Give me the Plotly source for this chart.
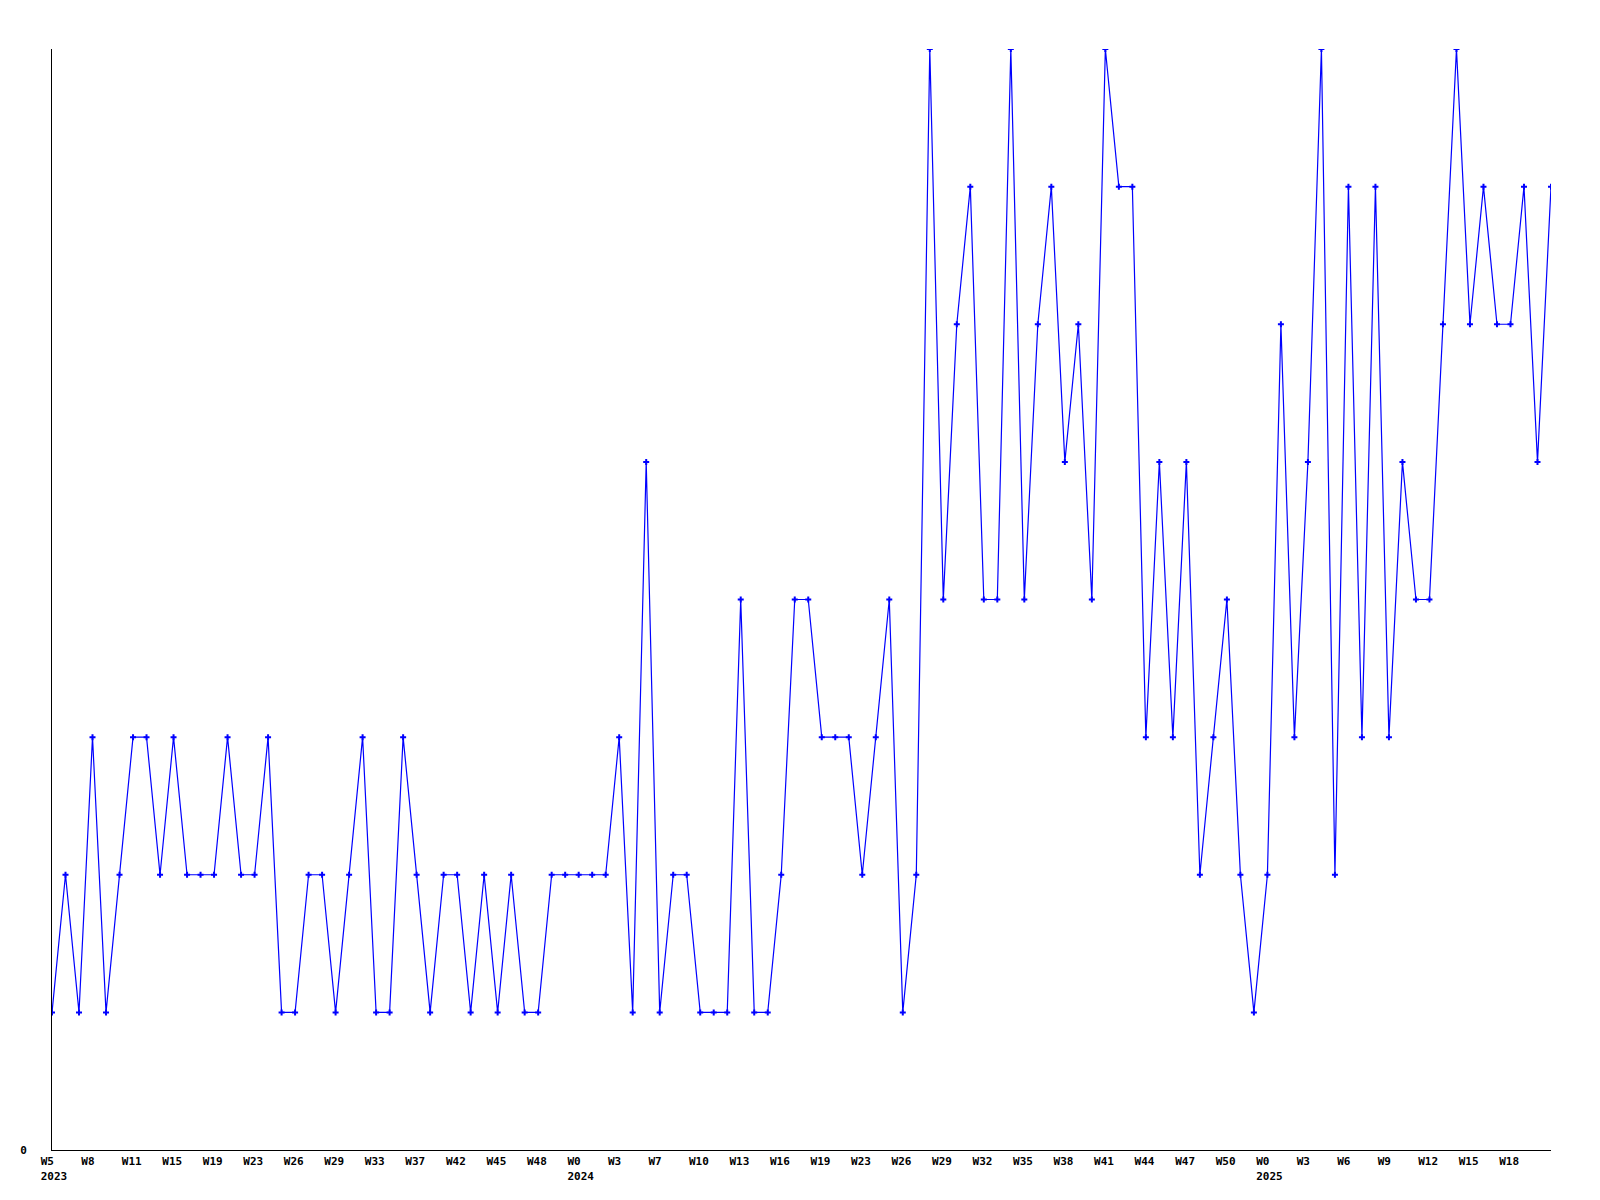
import plotly.graph_objects as go

# Values (one per period)
values = [
    1, 2, 1, 3, 1, 2, 3, 3, 2, 3,
    2, 2, 2, 3, 2, 2, 3, 1, 1, 2,
    2, 1, 2, 3, 1, 1, 3, 2, 1, 2,
    2, 1, 2, 1, 2, 1, 1, 2, 2, 2,
    2, 2, 3, 1, 5, 1, 2, 2, 1, 1,
    1, 4, 1, 1, 2, 4, 4, 3, 3, 3,
    2, 3, 4, 1, 2, 8, 4, 6, 7, 4,
    4, 8, 4, 6, 7, 5, 6, 4, 8, 7,
    7, 3, 5, 3, 5, 2, 3, 4, 2, 1,
    2, 6, 3, 5, 8, 2, 7, 3, 7, 3,
    5, 4, 4, 6, 8, 6, 7, 6, 6, 7,
    5, 7,
]
x_index = list(range(len(values)))

# Tick labels every third point
tick_weeks = [
    "W5", "W8", "W11", "W15", "W19", "W23", "W26", "W29", "W33", "W37", "W42", "W45", "W48",
    "W0", "W3", "W7", "W10", "W13", "W16", "W19", "W23", "W26", "W29", "W32", "W35", "W38",
    "W41", "W44", "W47", "W50",
    "W0", "W3", "W6", "W9", "W12", "W15", "W18",
]
tick_years = {0: "2023", 13: "2024", 30: "2025"}
tick_step = 3

tickvals = [i * tick_step for i in range(len(tick_weeks))]
ticktext = []
for i, w in enumerate(tick_weeks):
    label = w.ljust(4, "\u00a0")
    if i in tick_years:
        label = label + "<br>" + tick_years[i]
    ticktext.append(label)

fig = go.Figure()
fig.add_trace(go.Scatter(
    x=x_index, y=values,
    mode="lines+markers",
    line=dict(color="#0000ff", width=1.2),
    marker=dict(color="#0000ff", size=5, symbol="cross"),
    showlegend=False,
))

font = dict(family="DejaVu Sans Mono", size=11, color="#000000", weight="bold")

fig.update_layout(
    width=1600, height=1200,
    autosize=False,
    margin=dict(l=42, r=57, t=41, b=58),
    paper_bgcolor="#ffffff",
    plot_bgcolor="#ffffff",
    font=font,
)
fig.update_xaxes(
    range=[0, len(values) - 1],
    tickmode="array", tickvals=tickvals, ticktext=ticktext,
    tickfont=font, ticks="", showgrid=False, zeroline=False,
    showline=True, linecolor="#000000", linewidth=1,
    ticklabelshift=2, ticklabelstandoff=1,
)
fig.update_yaxes(
    range=[0, 8],
    tickmode="array", tickvals=[0], ticktext=["0"],
    tickfont=font, ticks="", showgrid=False, zeroline=False,
    showline=True, linecolor="#000000", linewidth=1,
    ticklabelstandoff=22,
)

fig.write_html("out.html")
